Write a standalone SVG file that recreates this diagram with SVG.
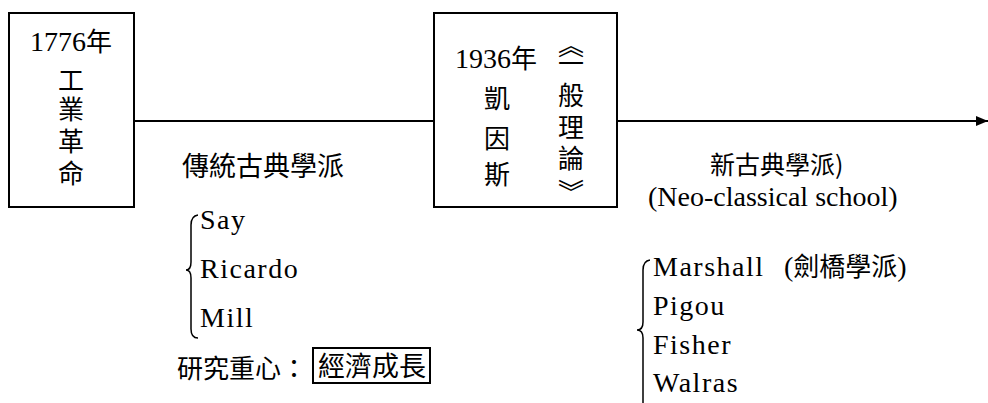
<svg xmlns="http://www.w3.org/2000/svg" width="988" height="403" viewBox="0 0 988 403">
<defs>
<style>
.box{fill:none;stroke:#000;stroke-width:2}
.line{fill:none;stroke:#000;stroke-width:2}
.brace{fill:none;stroke:#000;stroke-width:1.5}
.cjk{font-family:"Noto Sans CJK TC","Noto Sans CJK SC",sans-serif;font-size:26px;fill:#000}
.num{font-family:"Liberation Serif",serif;font-size:28px;fill:#000}
.name{font-family:"Liberation Serif",serif;font-size:28px;letter-spacing:1.5px;fill:#000}
.lat{font-family:"Liberation Serif",serif;font-size:28px;fill:#000}
.mid{text-anchor:middle}
</style>
<marker id="arrow" viewBox="0 0 12 10" refX="12" refY="5" markerWidth="12" markerHeight="10" markerUnits="userSpaceOnUse" orient="auto">
<path d="M0,0 L12,5 L0,10 Z" fill="#000"/>
</marker>
</defs>
<rect width="988" height="403" fill="#fff"/>
<g id="connectors">
<line class="line" x1="134" y1="121" x2="434" y2="121"/>
<line class="line" x1="617" y1="121" x2="988" y2="121" marker-end="url(#arrow)"/>
</g>
<g id="node-1776">
<rect class="box" x="9" y="13" width="125" height="194"/>
<text class="mid" x="71" y="51"><tspan class="num">1776</tspan><tspan class="cjk">年</tspan></text>
<text class="cjk mid" x="71" y="90">工</text>
<text class="cjk mid" x="71" y="119">業</text>
<text class="cjk mid" x="71" y="151">革</text>
<text class="cjk mid" x="71" y="183">命</text>
</g>
<g id="node-1936">
<rect class="box" x="434" y="13" width="183" height="194"/>
<text x="455" y="68"><tspan class="num">1936</tspan><tspan class="cjk">年</tspan></text>
<text class="cjk mid" x="497" y="108">凱</text>
<text class="cjk mid" x="497" y="148">因</text>
<text class="cjk mid" x="497" y="184">斯</text>
<text class="cjk mid" x="571" y="55">︽</text>
<text class="cjk mid" x="571" y="73">一</text>
<text class="cjk mid" x="571" y="105">般</text>
<text class="cjk mid" x="571" y="137">理</text>
<text class="cjk mid" x="571" y="168">論</text>
<text class="cjk mid" x="571" y="202">︾</text>
</g>
<g id="classical">
<text class="cjk" x="182" y="176" style="font-size:27px">傳統古典學派</text>
<path class="brace" d="M198,215 Q191,216 191,225 L191,262 Q191,270 186,270 Q191,270 191,278 L191,329 Q191,338 198,338"/>
<text class="name" x="200" y="229">Say</text>
<text class="name" x="200" y="278">Ricardo</text>
<text class="name" x="200" y="327">Mill</text>
<text class="cjk" x="177" y="378">研究重心：</text>
<rect class="box" x="313" y="348" width="117" height="35"/>
<text class="cjk" x="318" y="376" style="font-size:27px">經濟成長</text>
</g>
<g id="neoclassical">
<text class="cjk" x="710" y="174" style="font-size:25px">新古典學派)</text>
<text class="lat" x="648" y="206">(Neo-classical school)</text>
<path class="brace" d="M650,260 Q643,261 643,270 L643,322 Q643,330 637,330 Q643,330 643,338 L643,403"/>
<text class="name" x="653" y="276">Marshall</text>
<text x="784" y="276"><tspan class="lat">(</tspan><tspan class="cjk">劍橋學派</tspan><tspan class="lat">)</tspan></text>
<text class="name" x="653" y="315">Pigou</text>
<text class="name" x="653" y="354">Fisher</text>
<text class="name" x="653" y="392">Walras</text>
</g>
</svg>
